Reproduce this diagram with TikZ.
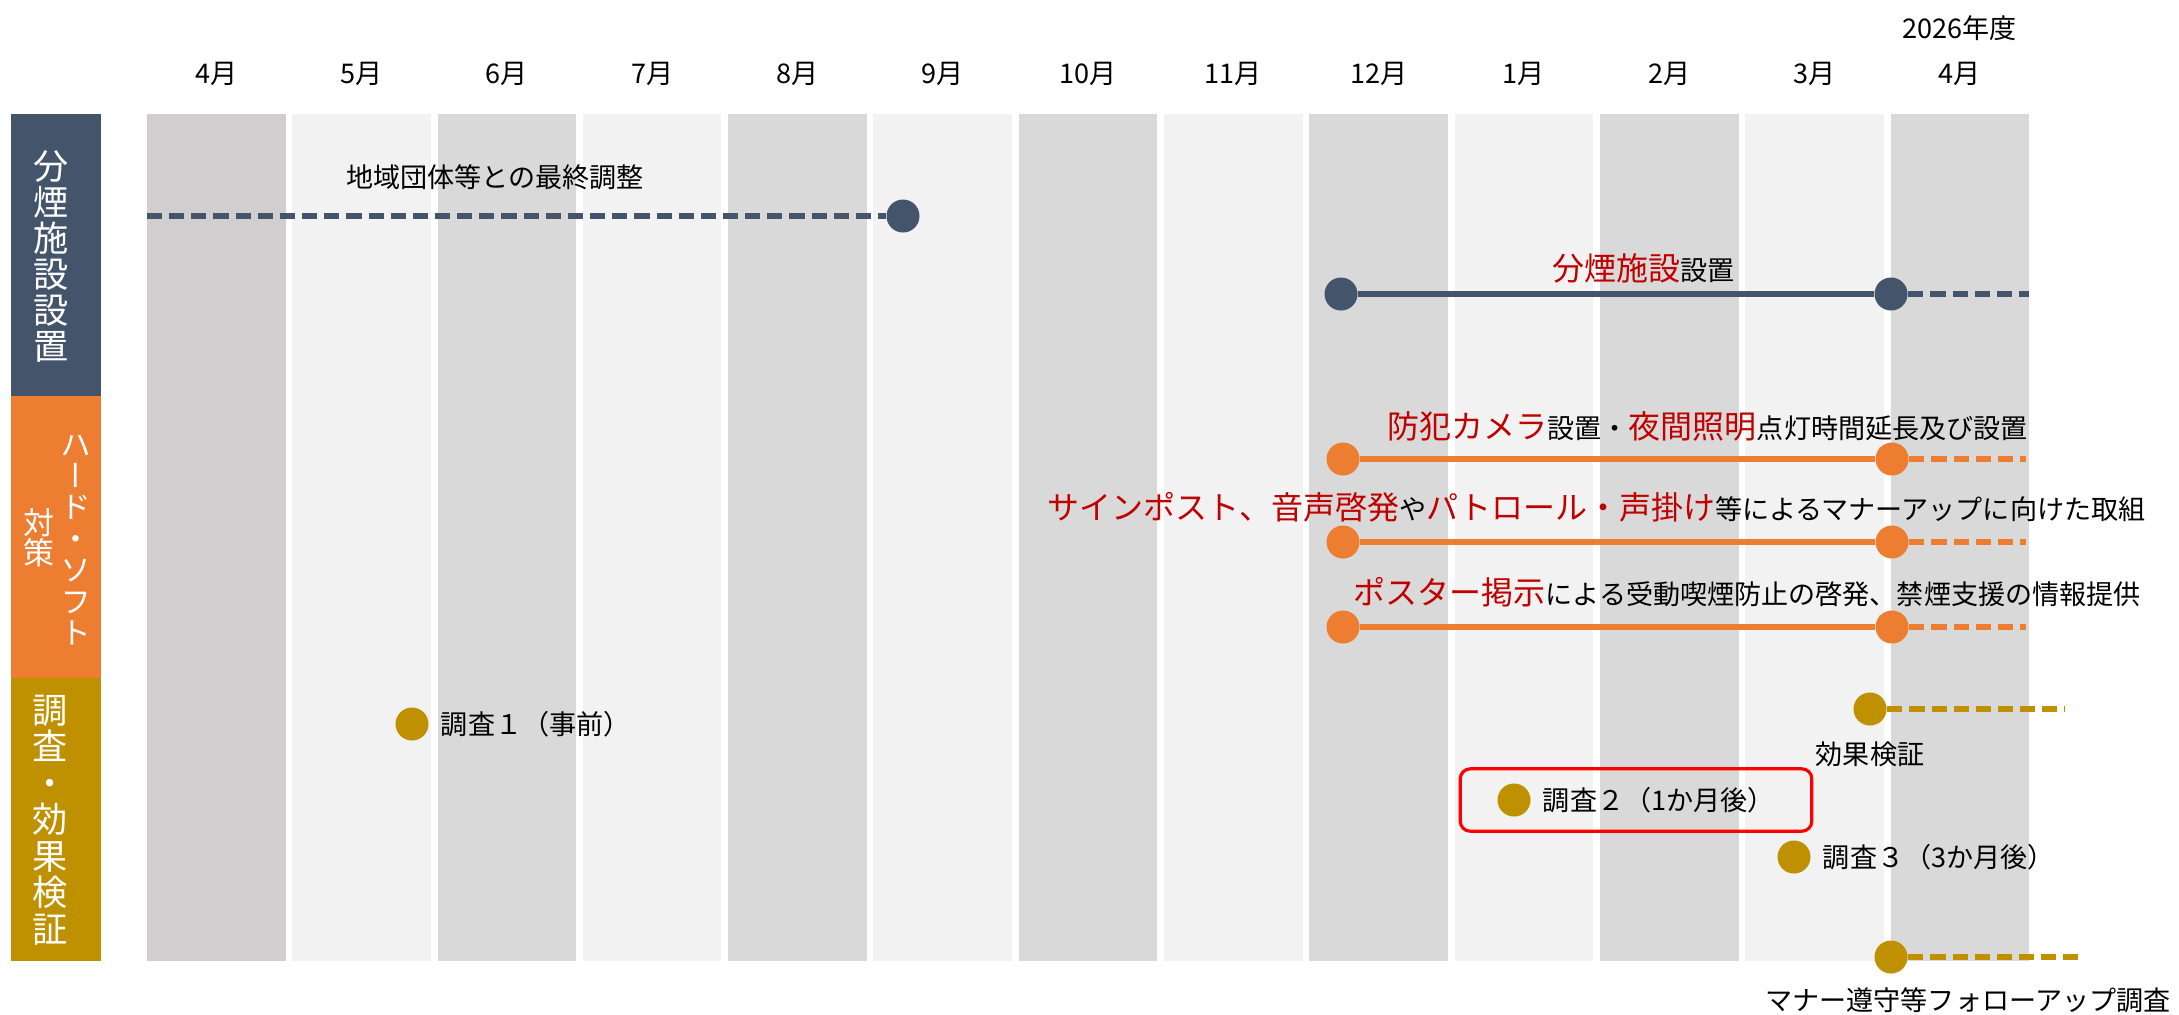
\documentclass[tikz,border=0pt]{standalone}
\usepackage{fontspec}
\setmainfont{Noto Sans CJK JP}
\newfontfamily\tate[RawFeature=+vert]{Noto Sans CJK JP}
\usepackage{tikz}
\usetikzlibrary{positioning,fit}

\definecolor{navy}{HTML}{44546A}
\definecolor{orng}{HTML}{ED7D31}
\definecolor{mstd}{HTML}{BF9000}
\definecolor{ttred}{HTML}{C00000}
\definecolor{boxred}{HTML}{FF0000}
\definecolor{colA}{HTML}{D0CECE}
\definecolor{colD}{HTML}{D9D9D9}
\definecolor{colL}{HTML}{F2F2F2}

\newcommand{\rd}[1]{\textcolor{ttred}{\fontsize{9.1}{11}\selectfont #1}}

\begin{document}
\begin{tikzpicture}[
    x=0.01cm, y=-0.01cm,
    col/.style={rectangle, draw=none, minimum width=1.385cm, minimum height=8.47cm, inner sep=0pt},
    mon/.style={inner sep=0pt, font=\fontsize{7.7}{9}\selectfont, label distance=0.265cm},
    grp/.style={rectangle, draw=none, minimum width=0.9cm, minimum height=2.82cm, inner sep=0pt},
    vt/.style={inner sep=0pt, align=center, text=white},
    lab/.style={inner sep=0pt, font=\fontsize{7.7}{9}\selectfont},
    dot/.style={circle, draw=none, minimum size=0.33cm, inner sep=0pt},
    ln/.style={line width=1.7pt},
    dsh/.style={line width=1.7pt, dash pattern=on 4.3pt off 2pt},
    hlbox/.style={rectangle, draw=boxred, line width=0.9pt, rounded corners=0.1cm,
        inner xsep=0.365cm, inner ysep=0.14cm}
]

\useasboundingbox (0,0) rectangle (2179,1014);

\node [col, fill=colA, label={[mon]above:4月}] (m1) at (216.25,537.5) {};
\node [col, fill=colL, label={[mon]above:5月}] (m2) at (361.55,537.5) {};
\node [col, fill=colD, label={[mon]above:6月}] (m3) at (506.85,537.5) {};
\node [col, fill=colL, label={[mon]above:7月}] (m4) at (652.15,537.5) {};
\node [col, fill=colD, label={[mon]above:8月}] (m5) at (797.45,537.5) {};
\node [col, fill=colL, label={[mon]above:9月}] (m6) at (942.75,537.5) {};
\node [col, fill=colD, label={[mon]above:10月}] (m7) at (1088.05,537.5) {};
\node [col, fill=colL, label={[mon]above:11月}] (m8) at (1233.35,537.5) {};
\node [col, fill=colD, label={[mon]above:12月}] (m9) at (1378.65,537.5) {};
\node [col, fill=colL, label={[mon]above:1月}] (m10) at (1523.95,537.5) {};
\node [col, fill=colD, label={[mon]above:2月}] (m11) at (1669.25,537.5) {};
\node [col, fill=colL, label={[mon]above:3月}] (m12) at (1814.55,537.5) {};
\node [col, fill=colD, label={[mon, name=l13]above:4月}] (m13) at (1959.85,537.5) {};
\node [mon, above=0.2cm of l13] (fy) {2026年度};

\node [grp, fill=navy] (g1) at (56,255) {};
\node [grp, fill=orng] (g2) at (56,537) {};
\node [grp, fill=mstd] (g3) at (56,819.5) {};
\node [vt, font=\tate\fontsize{10}{10.24}\selectfont] (v1) at (51,256) {分\\煙\\施\\設\\設\\置};
\node [vt, font=\tate\fontsize{8.8}{8.93}\selectfont] (v2) at (76,540) {ハ\\ー\\ド\\・\\ソ\\フ\\ト};
\node [vt, font=\tate\fontsize{8.8}{8.6}\selectfont] (v3) at (39,537.5) {対\\策};
\node [vt, font=\tate\fontsize{10}{10.36}\selectfont] (v4) at (50,820) {調\\査\\・\\効\\果\\検\\証};

\coordinate (s1) at (147,216);
\node [dot, fill=navy] (a1) at (903,216) {};
\draw [dsh, navy] (s1) -- (a1);
\node [lab] (t1) at (495,177) {地域団体等との最終調整};

\node [dot, fill=navy] (a2) at (1341,294) {};
\node [dot, fill=navy] (a3) at (1891,294) {};
\coordinate (e1) at (2029,294);
\draw [ln, navy] (a2) -- (a3);
\draw [dsh, navy] (a3) -- (e1);
\node [lab, anchor=base west] (t2) at (1552,280.6) {\rd{分煙施設}設置};

\node [dot, fill=orng] (b1) at (1343,459) {};
\node [dot, fill=orng] (b2) at (1892,459) {};
\coordinate (e2) at (2026,459);
\draw [ln, orng] (b1) -- (b2);
\draw [dsh, orng] (b2) -- (e2);
\node [lab, anchor=base west] (t3) at (1387,438) {\rd{防犯カメラ}設置・\rd{夜間照明}点灯時間延長及び設置};

\node [dot, fill=orng] (b3) at (1343,542) {};
\node [dot, fill=orng] (b4) at (1892,542) {};
\coordinate (e3) at (2026,542);
\draw [ln, orng] (b3) -- (b4);
\draw [dsh, orng] (b4) -- (e3);
\node [lab, anchor=base west] (t4) at (1047,519.5) {\rd{サインポスト、音声啓発}や\rd{パトロール・声掛け}等によるマナーアップに向けた取組};

\node [dot, fill=orng] (b5) at (1343,627) {};
\node [dot, fill=orng] (b6) at (1892,627) {};
\coordinate (e4) at (2026,627);
\draw [ln, orng] (b5) -- (b6);
\draw [dsh, orng] (b6) -- (e4);
\node [lab, anchor=base west] (t5) at (1353,604.5) {\rd{ポスター掲示}による受動喫煙防止の啓発、禁煙支援の情報提供};

\node [dot, fill=mstd] (d1) at (412,724) {};
\node [lab, right=0.11cm of d1] (u1) {調査１（事前）};

\node [dot, fill=mstd] (d2) at (1870,709) {};
\coordinate (e5) at (2065,709);
\draw [dsh, mstd] (d2) -- (e5);
\node [lab, below=0.145cm of d2] (u2) {効果検証};

\node [dot, fill=mstd] (d3) at (1514,800) {};
\node [lab, right=0.11cm of d3] (u3) {調査２（1か月後）};
\node [hlbox, fit=(d3)(u3)] (hb) {};

\node [dot, fill=mstd] (d4) at (1794,857) {};
\node [lab, right=0.11cm of d4] (u4) {調査３（3か月後）};

\node [dot, fill=mstd] (d5) at (1891,957) {};
\coordinate (e6) at (2085,957);
\draw [dsh, mstd] (d5) -- (e6);
\node [lab] (u5) at (1968,1000) {マナー遵守等フォローアップ調査};

\end{tikzpicture}
\end{document}
